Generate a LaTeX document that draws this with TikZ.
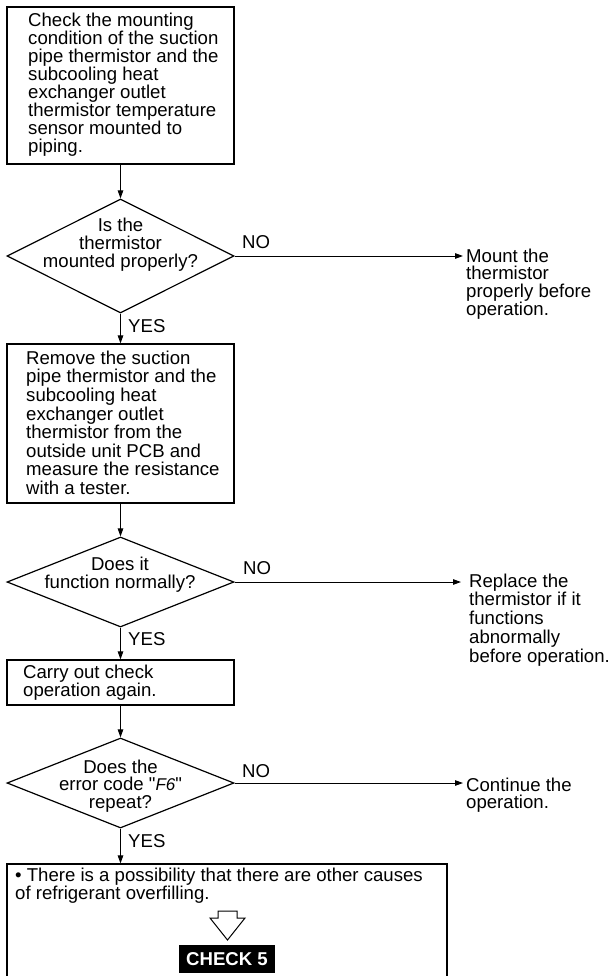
\documentclass[tikz,border=0pt]{standalone}
\usepackage{fontspec}
\setmainfont{Liberation Sans}
\newfontface\qfont{Liberation Sans}[Ligatures=TeXOff]
\usetikzlibrary{shapes.geometric,arrows.meta,calc}
\newcommand{\myst}{\rule{0pt}{14pt}}
\begin{document}
\begin{tikzpicture}[x=1pt,y=-1pt,
  box/.style={draw, line width=1.2pt, rectangle, inner sep=0pt},
  dia/.style={draw, line width=1.2pt, diamond, inner sep=0pt, minimum width=227pt},
  txt/.style={inner sep=0pt, align=left, anchor=north west, font=\fontsize{18.6}{18.3}\selectfont},
  ctxt/.style={inner sep=0pt, align=center, anchor=north, font=\fontsize{18.6}{18.3}\selectfont},
  lbl/.style={inner sep=0pt, anchor=base west, font=\fontsize{18.6}{18.3}\selectfont},
  arr/.style={line width=1pt, -{Triangle[length=8pt,width=5.5pt]}}]
\useasboundingbox (0,0) rectangle (609,976);
\clip (0,0) rectangle (609,976);
% boxes
\node[box, minimum width=227pt, minimum height=157pt] (b1) at (120.5,85.5) {};
\node[box, minimum width=227pt, minimum height=159pt] (b2) at (120.5,423.5) {};
\node[box, minimum width=227pt, minimum height=45pt] (b3) at (120.5,682.5) {};
\node[box, minimum width=440pt, minimum height=118pt] (b4) at (227,923) {};
% diamonds
\node[dia, minimum height=114pt] (d1) at (120.5,256) {};
\node[dia, minimum height=90pt] (d2) at (120.5,582) {};
\node[dia, minimum height=90pt] (d3) at (120.5,783) {};
% box texts
\node[txt, font=\fontsize{18.6}{18}\selectfont] (t1) at (28,12) {\myst Check the mounting\\condition of the suction\\pipe thermistor and the\\subcooling heat\\exchanger outlet\\thermistor temperature\\sensor mounted to\\piping.};
\node[txt, font=\fontsize{18.6}{18.6}\selectfont] (t2) at (26,350) {\myst Remove the suction\\pipe thermistor and the\\subcooling heat\\exchanger outlet\\thermistor from the\\outside unit PCB and\\measure the resistance\\with a tester.};
\node[txt] (t3) at (23,664) {\myst Carry out check\\operation again.};
% diamond texts
\node[ctxt, font=\fontsize{18.6}{18}\selectfont] (dt1) at (120.5,217) {\myst Is the\\thermistor\\mounted properly?};
\node[ctxt] (dt2) at (120,556) {\myst Does it\\function normally?};
\node[ctxt, font=\fontsize{18.6}{17.5}\selectfont] (dt3) at (120.5,759) {\myst Does the\\error code {\qfont"}{\fontsize{17}{17}\selectfont\itshape F6}{\qfont"}\\repeat?};
% right texts
\node[txt, font=\fontsize{18.6}{17.6}\selectfont] (r1) at (466,248) {\myst Mount the\\thermistor\\properly before\\operation.};
\node[txt, font=\fontsize{18.6}{18.7}\selectfont] (r2) at (469,573) {\myst Replace the\\thermistor if it\\functions\\abnormally\\before operation.};
\node[txt, font=\fontsize{18.6}{17}\selectfont] (r3) at (466,777) {\myst Continue the\\operation.};
% bottom box text
\node[txt] (t4) at (15,867) {\myst\textbullet\ There is a possibility that there are other causes\\of refrigerant overfilling.};
\draw[line width=1pt] (218,911) -- (237,911) -- (237,918) -- (245,918) -- (227.5,940) -- (210,918) -- (218,918) -- cycle;
\node[fill=black, text=white, inner sep=0pt, minimum width=96pt, minimum height=28pt, font=\fontsize{18.6}{18}\selectfont\bfseries] (c5) at (227,959) {CHECK 5};
% labels
\node[lbl] (no1) at (242,248) {NO};
\node[lbl] (no2) at (243,574) {NO};
\node[lbl] (no3) at (242,777) {NO};
\node[lbl] (y1) at (128,332) {YES};
\node[lbl] (y2) at (128,645) {YES};
\node[lbl] (y3) at (128,847) {YES};
% connectors
\draw[arr] (b1.south) -- (d1.north);
\draw[arr] (d1.south) -- (b2.north);
\draw[arr] (b2.south) -- (d2.north);
\draw[arr] (d2.south) -- (b3.north);
\draw[arr] (b3.south) -- (d3.north);
\draw[arr] (d3.south) -- (d3.south |- b4.north);
\draw[arr, shorten >=3pt] (d1.east) -- (d1.east -| r1.west);
\draw[arr, shorten >=8pt] (d2.east) -- (d2.east -| r2.west);
\draw[arr, shorten >=3pt] (d3.east) -- (d3.east -| r3.west);
\end{tikzpicture}
\end{document}
